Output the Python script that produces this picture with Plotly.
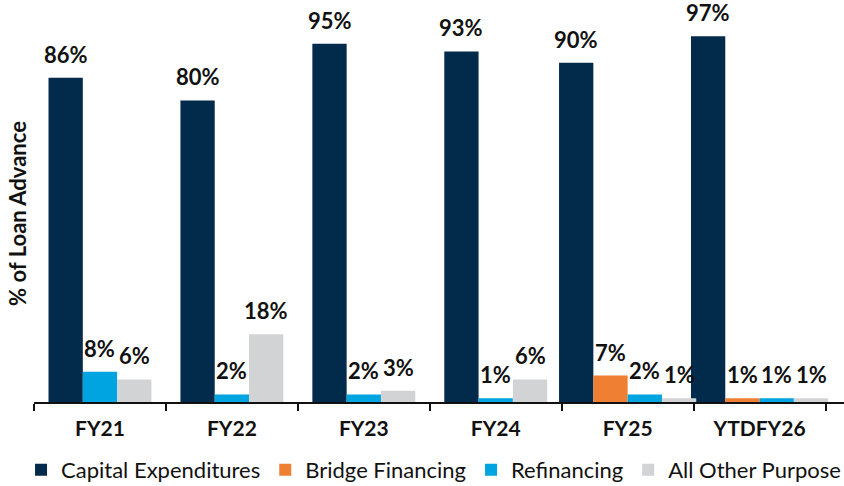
import plotly.graph_objects as go

categories = ["FY21", "FY22", "FY23", "FY24", "FY25", "YTDFY26"]
series_names = ["Capital Expenditures", "Bridge Financing", "Refinancing", "All Other Purpose"]
capex = [86, 80, 95, 93, 90, 97]
bridge = [None, None, None, None, 7, 1]
refinancing = [8, 2, 2, 1, 2, 1]
other = [6, 18, 3, 6, 1, 1]
y_title = "% of Loan Advance"

series_values = [capex, bridge, refinancing, other]
colors = ["#022A4B", "#EE7F33", "#00A4E0", "#D1D3D5"]

BW = 0.26  # bar width in category units

# compute per-category offsets so that only present bars are grouped together
offsets = [[0.0] * len(categories) for _ in series_values]
for i in range(len(categories)):
    present = [s for s in range(len(series_values)) if series_values[s][i] is not None]
    k = len(present)
    for rank, s in enumerate(present):
        offsets[s][i] = (-k / 2 + rank) * BW

label_font = dict(family="Lato", size=22, color="#111111", weight="bold")

fig = go.Figure()
for s, name in enumerate(series_names):
    vals = series_values[s]
    fig.add_trace(go.Bar(
        x=categories,
        y=vals,
        name=name,
        marker=dict(color=colors[s], line=dict(width=0)),
        width=BW,
        offset=offsets[s],
        cliponaxis=False,
        hoverinfo="skip",
    ))
    for i, v in enumerate(vals):
        if v is None:
            continue
        fig.add_annotation(
            x=i + offsets[s][i] + BW / 2, y=v, xref="x", yref="y",
            text=f"{v}%", showarrow=False, yanchor="bottom", yshift=8,
            font=label_font,
        )

fig.update_layout(
    width=844,
    height=486,
    margin=dict(l=34, r=0, t=25, b=84, autoexpand=False),
    plot_bgcolor="white",
    paper_bgcolor="white",
    barmode="overlay",
    showlegend=True,
    legend=dict(
        orientation="h",
        x=-0.016, xanchor="left",
        y=-0.18, yanchor="middle",
        font=dict(family="Lato", size=22, color="#111111"),
        itemwidth=30,
        traceorder="normal",
    ),
    xaxis=dict(
        type="category",
        range=[-0.5, 5.64],
        automargin=False,
        showline=True, linecolor="#111111", linewidth=2,
        ticks="outside", tickson="boundaries", ticklen=7, tickwidth=2, tickcolor="#111111",
        tickfont=dict(family="Lato", size=21, color="#111111", weight="bold"),
        ticklabelstandoff=7,
        showgrid=False, zeroline=False,
    ),
    yaxis=dict(
        range=[0, 100],
        automargin=False,
        showticklabels=False, showgrid=False, zeroline=False, showline=False, ticks="",
        title=dict(text=y_title, font=dict(family="Lato", size=22, color="#111111", weight="bold"), standoff=0),
    ),
)

fig.write_html("out.html", config={"displayModeBar": False},
               post_script="document.body.style.margin='0';")
